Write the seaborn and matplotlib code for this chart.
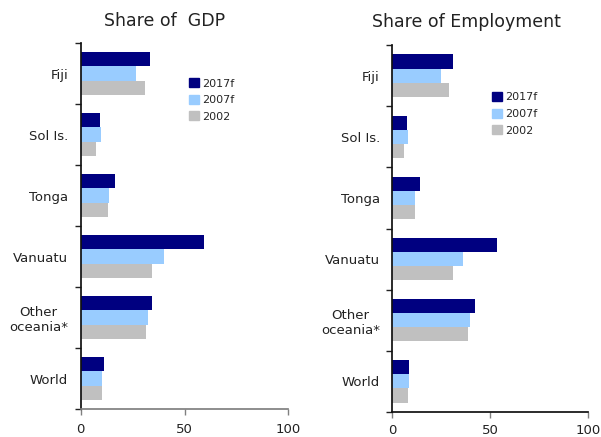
import pandas as pd
import matplotlib
matplotlib.use("Agg")
import matplotlib.pyplot as plt
import seaborn as sns

# Data
regions = ['Fiji', 'Sol Is.', 'Tonga', 'Vanuatu', 'Other\noceania*', 'World']
series = ['2017f', '2007f', '2002']

gdp_2017f = [33.4, 9.3, 16.5, 59.4, 34.4, 11.2]
gdp_2007f = [26.7, 9.8, 13.6, 40.1, 32.4, 10.3]
gdp_2002 = [31.0, 7.4, 13.1, 34.4, 31.4, 10.3]

emp_2017f = [31.0, 7.5, 14.1, 53.4, 42.2, 8.5]
emp_2007f = [24.8, 8.0, 11.5, 36.1, 39.6, 8.5]
emp_2002 = [28.9, 6.0, 11.5, 31.0, 38.6, 8.0]

colors = ['#000080', '#99CCFF', '#C0C0C0']


def long_table(v17, v07, v02):
    rows = []
    for name, vals in zip(series, [v17, v07, v02]):
        for r, v in zip(regions, vals):
            rows.append({'Region': r, 'Series': name, 'Share': v})
    return pd.DataFrame(rows)


df_gdp = long_table(gdp_2017f, gdp_2007f, gdp_2002)
df_emp = long_table(emp_2017f, emp_2007f, emp_2002)

sns.set_theme(style="white")
plt.rcParams['font.family'] = ['DejaVu Sans']

fig = plt.figure(figsize=(6.01, 4.37), dpi=100)
ax1 = fig.add_axes([80.7 / 601, 1 - 409 / 437, 207.6 / 601, 366 / 437])
ax2 = fig.add_axes([392.3 / 601, 1 - 412 / 437, 196 / 601, 367 / 437])


def draw(ax, df, leg_anchor, bottom_color, xpad):
    sns.barplot(data=df, y='Region', x='Share', hue='Series', order=regions,
                hue_order=series, palette=colors, saturation=1, width=0.69,
                orient='h', ax=ax, legend=False, linewidth=0, edgecolor='none')
    ax.set_xlim(0, 100)
    ax.set_ylim(5.5, -0.5)
    ax.set_xticks([0, 50, 100])
    ax.set_xticklabels(['0', '50', '100'], fontsize=9.5, color='#222222')
    ax.set_yticks(range(len(regions)))
    ax.set_yticklabels(regions, fontsize=9.5, color='#222222', multialignment='center')
    ax.set_yticks([i - 0.5 for i in range(len(regions) + 1)], minor=True)
    ax.tick_params(axis='y', which='major', length=0, pad=9)
    ax.tick_params(axis='y', which='minor', length=4, width=1, color='#222222', left=True)
    ax.tick_params(axis='x', which='major', length=4, width=1, color='#808080', bottom=True, pad=xpad)
    ax.set_xlabel('')
    ax.set_ylabel('')
    for s in ['top', 'right']:
        ax.spines[s].set_visible(False)
    ax.spines['left'].set_color('#111111')
    ax.spines['bottom'].set_color(bottom_color)
    ax.grid(False)

    handles = [plt.Rectangle((0, 0), 1, 1, color=c) for c in colors]
    ax.legend(handles, series, loc='upper left', bbox_to_anchor=leg_anchor,
              frameon=False, fontsize=8, borderpad=0, handlelength=0.9,
              handleheight=0.9, handletextpad=0.3, labelspacing=0.55,
              borderaxespad=0)


draw(ax1, df_gdp, (0.52, 0.904), '#808080', 6)
draw(ax2, df_emp, (0.508, 0.872), '#111111', 4.5)

fig.text(165 / 601, 1 - 21.5 / 437, 'Share of  GDP', ha='center', va='center',
         fontsize=12.5, color='#222222')
fig.text(466 / 601, 1 - 22 / 437, 'Share of Employment', ha='center', va='center',
         fontsize=12.5, color='#222222')

fig.savefig('out.png', dpi=100, facecolor='white')
